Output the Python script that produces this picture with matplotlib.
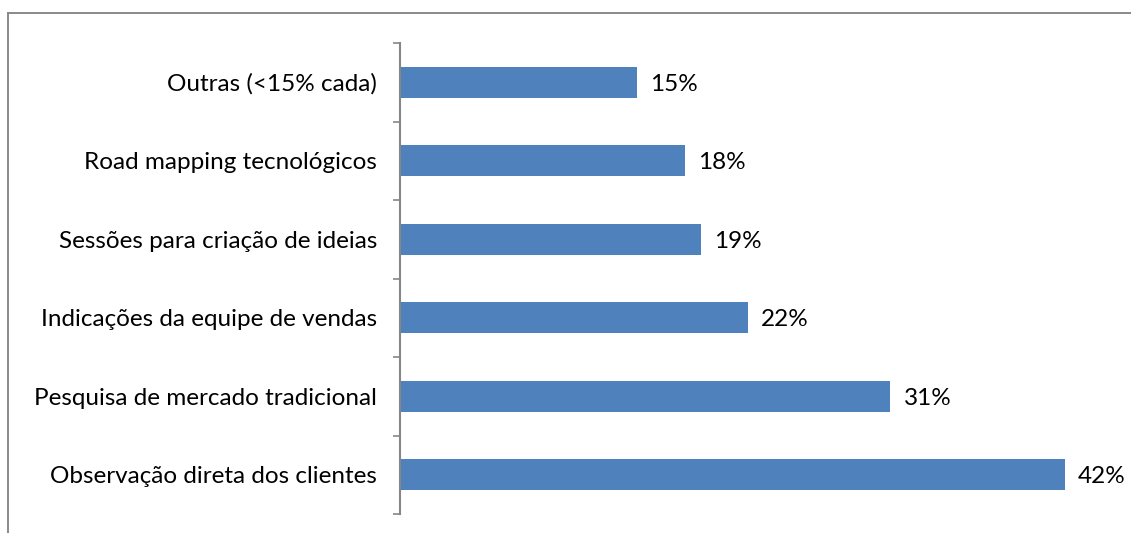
import matplotlib
matplotlib.use("Agg")
import matplotlib.pyplot as plt
from matplotlib.lines import Line2D
import numpy as np

categories = [
    "Observação direta dos clientes",
    "Pesquisa de mercado tradicional",
    "Indicações da equipe de vendas",
    "Sessões para criação de ideias",
    "Road mapping tecnológicos",
    "Outras (<15% cada)",
]
values = [42, 31, 22, 19, 18, 15]

plt.rcParams["font.family"] = ["Lato", "DejaVu Sans"]

fig = plt.figure(figsize=(11.31, 5.33), dpi=100)
ax = fig.add_axes([0.3537, 0.0356, 0.6295, 0.8837])

y = np.arange(len(categories))
ax.barh(y, values, height=0.4, color="#4F81BD", zorder=2)

for yi, v in zip(y, values):
    ax.annotate(f"{v}%", xy=(v, yi), xytext=(9.4, -1.5), textcoords="offset points",
                va="center", ha="left", fontsize=17.5, color="black")

ax.set_xlim(0, 45)
ax.set_ylim(-0.5, len(categories) - 0.5)
ax.set_yticks(y)
ax.set_yticklabels(categories, fontsize=17.5)
ax.set_yticks(np.arange(-0.5, len(categories)), minor=True)
ax.tick_params(axis="y", which="major", length=0, pad=16.5)
ax.tick_params(axis="y", which="minor", length=5, width=1.2, color="#868686", direction="out")
ax.set_xticks([])

for side in ("top", "right", "bottom"):
    ax.spines[side].set_visible(False)
ax.spines["left"].set_color("#868686")
ax.spines["left"].set_linewidth(1.5)

# outer chart-area border (top and left edges)
fig.add_artist(Line2D([8 / 1131, 8 / 1131], [0, 1 - 13 / 533], transform=fig.transFigure,
                      color="#898989", linewidth=1.4))
fig.add_artist(Line2D([8 / 1131, 1.0], [1 - 13 / 533, 1 - 13 / 533], transform=fig.transFigure,
                      color="#898989", linewidth=1.4))

fig.savefig("out.png", dpi=100)
